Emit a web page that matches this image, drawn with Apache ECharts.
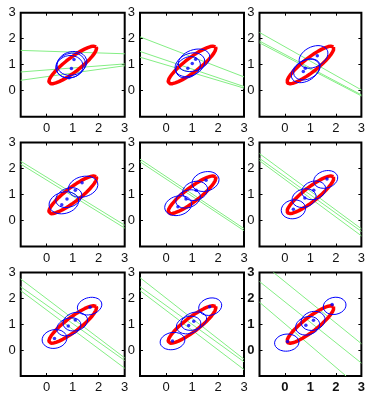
<!DOCTYPE html>
<html><head><meta charset="utf-8">
<script src="https://cdn.jsdelivr.net/npm/echarts@6/dist/echarts.min.js"></script>
<style>html,body{margin:0;padding:0;background:#fff}#c{width:368px;height:394px}</style>
</head><body><div id="c"></div>
<script>
// red ellipse: [cx, cy, rx, ry, angleDeg]
const redEllipse = [1.0, 0.99, 1.14, 0.27, 37.5];
// blue ellipses per panel: [cx, cy, rx, ry, angleDeg]
const p1Blue = [[0.97,1.05,0.58,0.45,15],[0.92,0.97,0.58,0.46,20],[0.88,0.92,0.52,0.43,10]];
const p2Blue = [[1.08,1.17,0.63,0.4,20],[0.92,1.0,0.6,0.42,25],[0.85,0.9,0.5,0.38,30]];
const p3Blue = [[1.12,1.3,0.6,0.39,25],[0.8,0.76,0.6,0.39,30],[0.86,0.82,0.55,0.37,25]];
const p4Blue = [[1.4,1.3,0.58,0.39,15],[0.85,0.88,0.52,0.36,20],[0.66,0.68,0.58,0.41,15]];
const p5Blue = [[1.52,1.5,0.53,0.37,15],[1.12,1.14,0.49,0.36,15],[0.85,0.83,0.49,0.33,20],[0.47,0.57,0.53,0.37,15]];
const p6Blue = [[1.6,1.58,0.48,0.33,15],[1.13,1.16,0.48,0.35,15],[0.75,0.86,0.48,0.35,15],[0.33,0.43,0.48,0.36,10]];
const p7Blue = [[1.65,1.7,0.48,0.33,15],[1.1,1.1,0.48,0.35,15],[0.85,0.9,0.48,0.33,20],[0.3,0.43,0.48,0.36,10]];
const p8Blue = [[1.7,1.68,0.45,0.33,15],[1.07,1.12,0.51,0.33,20],[0.87,0.97,0.48,0.33,15],[0.25,0.35,0.48,0.33,10]];
const p9Blue = [[1.95,1.71,0.45,0.33,10],[1.1,1.13,0.48,0.36,15],[0.89,0.94,0.48,0.35,15],[0.07,0.29,0.48,0.33,5]];
// green lines per panel: [x1, y1, x2, y2]
const p1Green = [[-1,1.55,3,1.42],[-1,0.72,3,1.03],[-1,0.4,3,0.96]];
const p2Green = [[-1,2.07,3,0.53],[-1,1.51,3,0.16],[-1,1.29,3,0.1]];
const p3Green = [[-1,2.24,3,0.03],[-1,1.91,3,-0.16],[-1,1.84,3,-0.2]];
const p4Green = [[-1,2.28,3,-0.18],[-1,2.17,3,-0.29]];
const p5Green = [[-1,2.36,3,-0.31],[-1,2.26,3,-0.39]];
const p6Green = [[-1,2.57,3,-0.32],[-1,2.39,3,-0.42],[-1,2.3,3,-0.59]];
const p7Green = [[-1,2.75,3,-0.3],[-1,2.45,3,-0.4],[-1,2.3,3,-0.7]];
const p8Green = [[-1,2.8,3,-0.35],[-1,2.45,3,-0.45],[-1,2.3,3,-0.75]];
const p9Green = [[-0.45,3,3,0.25],[-1,2.65,3,-0.5],[-1,1.85,2.4,-1]];
// blue dots per panel
const p1Dots = [[0.86,0.5],[0.95,0.85],[1.05,1.2]];
const p2Dots = [[1.14,1.21],[1.01,1.05],[0.84,0.86]];
const p3Dots = [[1.27,1.34],[0.8,0.86],[0.72,0.74]];
const p4Dots = [[1.36,1.45],[1.1,1.16],[0.78,0.83],[0.58,0.61]];
const p5Dots = [[1.54,1.55],[1.16,1.16],[0.77,0.83],[0.46,0.53]];
const p6Dots = [[1.65,1.6],[1.13,1.16],[0.78,0.87],[0.33,0.43]];
const p7Dots = [[1.67,1.66],[1.1,1.16],[0.83,0.93],[0.3,0.45]];
const p8Dots = [[1.68,1.68],[1.07,1.12],[0.87,0.95],[0.25,0.35]];
const p9Dots = [[1.85,1.76],[1.12,1.15],[0.82,0.96],[0.1,0.33]];
const axisTicks = [-1, 0, 1, 2, 3];

const panels = [
  [p1Blue,p1Green,p1Dots],[p2Blue,p2Green,p2Dots],[p3Blue,p3Green,p3Dots],
  [p4Blue,p4Green,p4Dots],[p5Blue,p5Green,p5Dots],[p6Blue,p6Green,p6Dots],
  [p7Blue,p7Green,p7Dots],[p8Blue,p8Green,p8Dots],[p9Blue,p9Green,p9Dots]
];

function ellipsePts(e){
  const [cx,cy,rx,ry,a]=e, th=a*Math.PI/180, pts=[];
  for(let i=0;i<=72;i++){
    const t=i/72*2*Math.PI;
    pts.push([cx+rx*Math.cos(t)*Math.cos(th)-ry*Math.sin(t)*Math.sin(th),
              cy+rx*Math.cos(t)*Math.sin(th)+ry*Math.sin(t)*Math.cos(th)]);
  }
  return pts;
}

const colLeft=[20.7,140,259.5], rowTop=[12.7,142.5,272.5], W=104, H=104;
const grids=[], xAxes=[], yAxes=[], series=[];
panels.forEach((p,i)=>{
  const r=Math.floor(i/3), c=i%3, last=(i===8);
  grids.push({left:colLeft[c],top:rowTop[r],width:W,height:H,show:true,borderColor:'#000',borderWidth:2,backgroundColor:'#fff'});
  const lab={fontFamily:'Liberation Sans, Arial, sans-serif',fontSize:13,color:'#111',fontWeight:last?'bold':'normal',
    formatter:v=>v<axisTicks[1]?'':String(v)};
  const base={gridIndex:i,type:'value',min:axisTicks[0],max:axisTicks[4],interval:1,
    axisLine:{show:false,onZero:false},splitLine:{show:false},
    axisTick:{inside:true,length:3,lineStyle:{color:'#000'}}};
  xAxes.push(Object.assign({position:'bottom',axisLabel:Object.assign({margin:5},lab)},base));
  xAxes.push(Object.assign({position:'top',axisLabel:{show:false}},base));
  yAxes.push(Object.assign({position:'left',axisLabel:Object.assign({margin:5},lab)},base));
  yAxes.push(Object.assign({position:'right',axisLabel:{show:false}},base));
  const xi=2*i, yi=2*i;
  const [blue,green,dots]=p;
  green.forEach(g=>series.push({type:'line',xAxisIndex:xi,yAxisIndex:yi,data:[[g[0],g[1]],[g[2],g[3]]],
    symbol:'none',lineStyle:{color:'#84ee84',width:1},silent:true,animation:false,z:2}));
  series.push({type:'line',xAxisIndex:xi,yAxisIndex:yi,data:ellipsePts(redEllipse),symbol:'none',
    lineStyle:{color:'#ff0000',width:3.5},animation:false,z:3});
  blue.forEach(b=>series.push({type:'line',xAxisIndex:xi,yAxisIndex:yi,data:ellipsePts(b),symbol:'none',
    lineStyle:{color:'#0000ff',width:1},animation:false,z:4}));
  series.push({type:'scatter',xAxisIndex:xi,yAxisIndex:yi,data:dots,symbolSize:3.5,
    itemStyle:{color:'#0000ff'},animation:false,z:5});
});

const chart=echarts.init(document.getElementById('c'),null,{renderer:'canvas'});
chart.setOption({animation:false,grid:grids,xAxis:xAxes,yAxis:yAxes,series:series});
</script></body></html>
